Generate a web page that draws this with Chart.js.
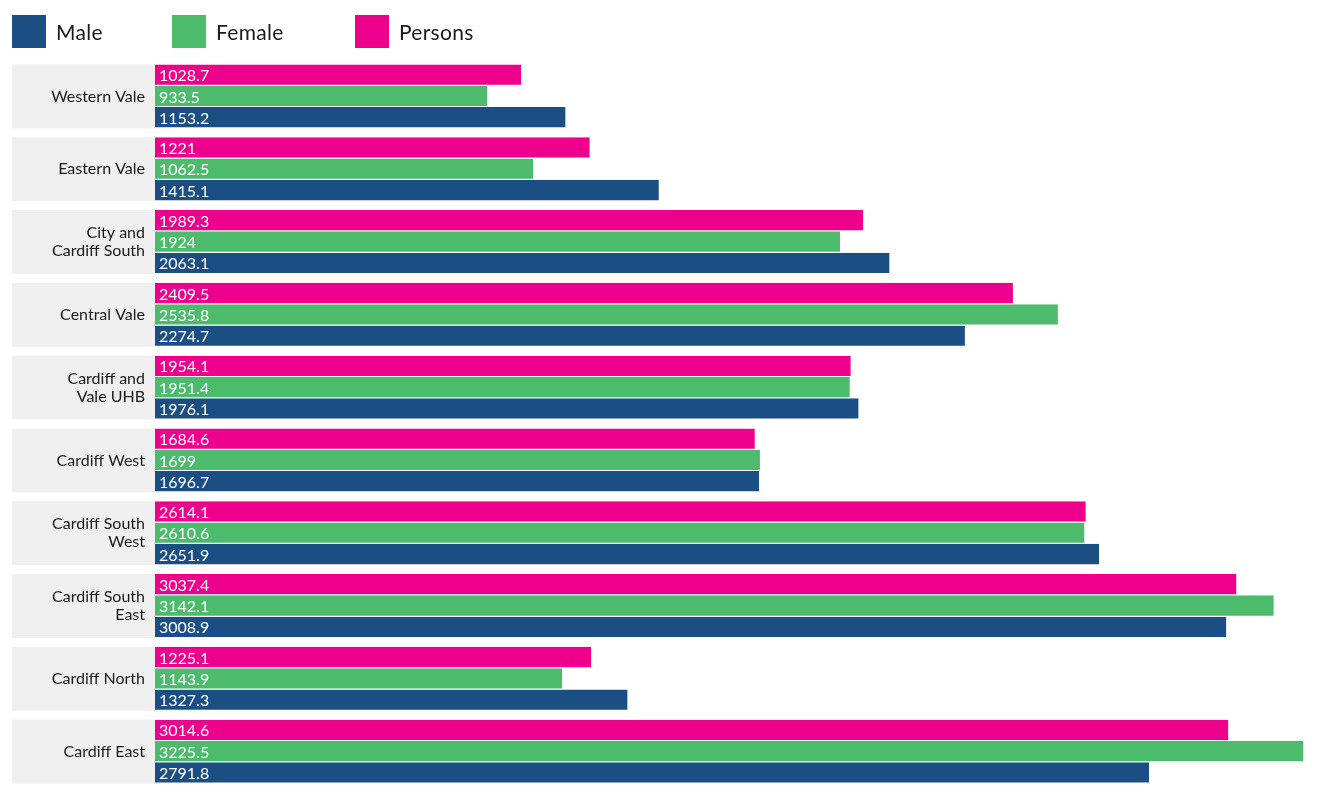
<!DOCTYPE html>
<html>
<head>
<meta charset="utf-8">
<script src="https://cdn.jsdelivr.net/npm/chart.js@4.4.1/dist/chart.umd.min.js"></script>
<style>
  html, body { margin: 0; padding: 0; background: #fff; }
  body { width: 1330px; height: 795px; position: relative; overflow: hidden; font-family: Lato, "Open Sans", sans-serif; }
  .legend { position: absolute; top: 15px; left: 0; width: 700px; height: 34px; z-index: 2; }
  .legend .item { position: absolute; top: 0; display: flex; align-items: center; }
  .legend .box { width: 34px; height: 33px; margin-right: 10px; }
  .legend .lbl { font-size: 21px; color: #1a1a1a; letter-spacing: 0.3px; }
  #wrap { position: absolute; left: 0; top: 0; width: 1330px; height: 795px; }
</style>
</head>
<body>
<div class="legend" id="legend"></div>
<div id="wrap"><canvas id="chart"></canvas></div>
<script>
// data
const categories = [
  ["Western Vale"],
  ["Eastern Vale"],
  ["City and", "Cardiff South"],
  ["Central Vale"],
  ["Cardiff and", "Vale UHB"],
  ["Cardiff West"],
  ["Cardiff South", "West"],
  ["Cardiff South", "East"],
  ["Cardiff North"],
  ["Cardiff East"]
];
const persons = [1028.7, 1221, 1989.3, 2409.5, 1954.1, 1684.6, 2614.1, 3037.4, 1225.1, 3014.6];
const female  = [933.5, 1062.5, 1924, 2535.8, 1951.4, 1699, 2610.6, 3142.1, 1143.9, 3225.5];
const male    = [1153.2, 1415.1, 2063.1, 2274.7, 1976.1, 1696.7, 2651.9, 3008.9, 1327.3, 2791.8];

const colors = { Male: "#1b4f83", Female: "#4cbb6c", Persons: "#ec008c" };
const legendNames = ["Male", "Female", "Persons"];
const legendLeft = [12, 172, 355];

// legend (Male, Female, Persons)
const legendEl = document.getElementById("legend");
legendNames.forEach((name, i) => {
  const it = document.createElement("div");
  it.className = "item";
  it.style.left = legendLeft[i] + "px";
  it.innerHTML = '<div class="box" style="background:' + colors[name] + '"></div><span class="lbl">' + name + '</span>';
  legendEl.appendChild(it);
});

const catPct = 0.878;

// grey label band + category text on the left
const bandPlugin = {
  id: "bands",
  beforeDatasetsDraw(chart) {
    const { ctx, chartArea, scales } = chart;
    const y = scales.y;
    const step = (chartArea.bottom - chartArea.top) / categories.length;
    const h = step * catPct;
    ctx.save();
    categories.forEach((lines, i) => {
      const cy = y.getPixelForValue(i);
      ctx.fillStyle = "#efefef";
      ctx.fillRect(12, cy - h / 2, chartArea.left - 12, h);
      ctx.fillStyle = "#1a1a1a";
      ctx.font = "16px Lato, 'Open Sans', sans-serif";
      ctx.textAlign = "right";
      ctx.textBaseline = "middle";
      const lh = 18;
      const start = cy - (lines.length - 1) * lh / 2;
      lines.forEach((t, j) => ctx.fillText(t, chartArea.left - 10, start + j * lh));
    });
    ctx.restore();
  }
};

// white value labels inside the bars
const valuePlugin = {
  id: "values",
  afterDatasetsDraw(chart) {
    const { ctx } = chart;
    ctx.save();
    ctx.fillStyle = "#ffffff";
    ctx.font = "16px Lato, 'Open Sans', sans-serif";
    ctx.textAlign = "left";
    ctx.textBaseline = "middle";
    chart.data.datasets.forEach((ds, di) => {
      chart.getDatasetMeta(di).data.forEach((bar, i) => {
        ctx.fillText(String(ds.data[i]), bar.base + 4, bar.y + 1);
      });
    });
    ctx.restore();
  }
};

const mk = (label, data) => ({
  label: label,
  data: data,
  backgroundColor: colors[label],
  borderColor: "#ffffff",
  borderWidth: { top: 0, bottom: 1, left: 0, right: 0 },
  borderSkipped: false,
  barPercentage: 1,
  categoryPercentage: catPct
});

new Chart(document.getElementById("chart"), {
  type: "bar",
  data: {
    labels: categories,
    datasets: [mk("Persons", persons), mk("Female", female), mk("Male", male)]
  },
  options: {
    indexAxis: "y",
    responsive: true,
    maintainAspectRatio: false,
    animation: false,
    layout: { padding: { left: 155, right: 0, top: 60, bottom: 7 } },
    scales: {
      x: { display: false, min: 0, max: 3300 },
      y: { display: false }
    },
    plugins: {
      legend: { display: false },
      tooltip: { enabled: false }
    }
  },
  plugins: [bandPlugin, valuePlugin]
});
</script>
</body>
</html>
